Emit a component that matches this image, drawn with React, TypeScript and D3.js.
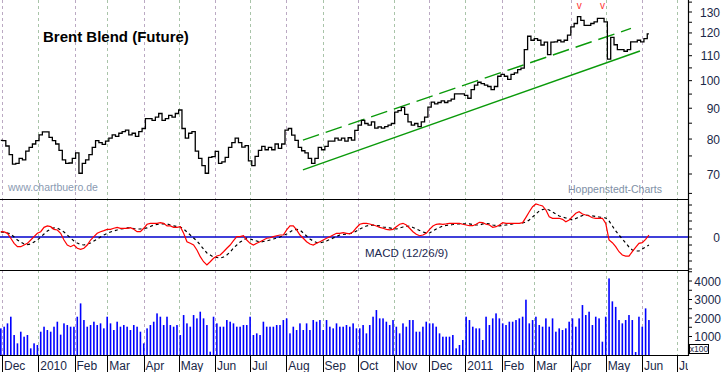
import * as d3 from 'd3';

// closes, sampled about every 2 trading days (Nov 30 2009 -> Jun 7 2011)
const closes = [
  79.6, 79.5, 77.9, 75.4, 72.7, 72.9, 74.3, 73.9, 76.4, 77.5,
  78.5, 79.5, 81.3, 82.2, 82.2, 80.5, 79.5, 78.5, 76.6, 73.9,
  72.9, 73.0, 74.3, 75.9, 70.2, 72.9, 73.9, 75.4, 77.5, 79.5,
  78.9, 78.4, 79.4, 80.3, 81.3, 80.8, 81.8, 82.3, 82.8, 81.3,
  81.8, 80.8, 82.3, 83.3, 86.5, 86.5, 85.9, 87.0, 88.2, 85.9,
  86.5, 87.6, 87.0, 88.2, 89.4, 83.3, 80.3, 81.8, 82.3, 76.4,
  74.3, 72.3, 70.2, 74.6, 74.8, 76.3, 72.9, 73.3, 74.6, 77.5,
  78.9, 80.3,
  78.9, 77.6, 78.0, 73.6, 72.3, 74.9, 76.6, 77.8, 76.8, 77.5,
  76.8, 78.5, 77.2, 78.5, 82.8, 83.3, 81.2, 79.6, 77.5, 76.5,
  75.9, 74.3, 72.9, 74.3, 77.5, 76.8, 77.8, 79.4, 79.4, 80.3,
  79.7, 80.3, 79.4, 80.4, 79.7, 82.7, 84.4, 85.9, 84.9, 84.4,
  85.4, 83.4, 83.8, 83.4, 83.9, 84.4, 84.9, 88.7, 89.2, 90.3,
  87.9, 85.4, 84.4, 84.9, 83.9, 85.4, 87.0, 90.4, 92.1, 91.5,
  92.0, 92.6, 92.0, 92.6, 93.2, 95.1, 95.1, 95.1, 94.5, 93.5,
  96.6, 98.3,
  99.4, 98.9, 98.3, 97.8, 96.6, 97.8, 101.7, 102.4, 101.7, 100.5,
  102.4, 103.0, 104.3, 104.9, 112.6, 118.5, 116.7, 117.4, 116.7, 114.6,
  115.9, 110.5, 115.9, 116.0, 116.7, 116.0, 116.7, 119.0, 122.8, 124.4,
  127.7, 125.9, 123.5, 123.5, 124.4, 125.2, 126.9, 126.9, 125.2, 108.6,
  118.0, 114.7, 112.6, 112.6, 111.9, 112.6, 116.0, 116.0, 116.7, 116.0,
  117.4, 119.6
];

const macd = [
  0.66, 0.63, 0.46, -0.16, -0.79, -1.21, -1.21, -1.0, -0.79, -0.38,
  0.04, 0.46, 0.66, 1.21, 1.38, 1.29, 0.96, 0.88, 0.46, -0.38,
  -1.0, -1.21, -1.0, -1.41, -1.54, -1.41, -1.0, -0.38, 0.04, 0.46,
  0.66, 0.79, 0.96, 0.96, 1.09, 1.21, 1.09, 1.09, 1.09, 1.16,
  0.96, 0.66, 0.66, 1.09, 1.59, 1.71, 1.71, 1.71, 1.79, 1.71,
  1.38, 1.38, 1.21, 1.21, 1.29, 0.46, -0.59, -0.79, -1.0, -1.63,
  -2.46, -3.09, -3.5, -3.09, -2.66, -2.38, -2.25, -1.84, -1.41, -1.0,
  -0.46, 0.04,
  0.04, 0.16, -0.38, -0.79, -1.0, -0.79, -0.59, -0.38, -0.16, -0.09,
  0.04, 0.16, 0.25, 0.25, 0.88, 1.38, 1.38, 0.88, 0.25, -0.16,
  -0.59, -0.88, -1.0, -0.79, -0.59, -0.38, -0.16, 0.04, 0.25, 0.46,
  0.46, 0.54, 0.46, 0.38, 0.66, 1.16, 1.59, 1.71, 1.71, 1.63,
  1.5, 1.38, 1.21, 1.09, 0.96, 0.88, 0.96, 1.29, 1.59, 1.71,
  1.5, 1.09, 0.66, 0.34, 0.16, 0.25, 0.46, 0.96, 1.38, 1.59,
  1.63, 1.59, 1.63, 1.71, 1.71, 1.71, 1.71, 1.59, 1.5, 1.41,
  1.41, 1.59,
  1.84, 1.79, 1.59, 1.5, 1.21, 1.29, 1.5, 1.79, 1.71, 1.71,
  1.71, 1.71, 1.71, 1.79, 2.46, 3.16, 3.79, 4.13, 4.0, 3.88,
  3.38, 2.54, 2.34, 2.34, 2.34, 2.21, 1.91, 2.13, 2.54, 2.96,
  3.16, 2.88, 2.75, 2.63, 2.41, 2.34, 2.34, 2.34, 1.71, -0.38,
  -0.71, -1.21, -1.84, -2.25, -2.38, -2.38, -1.84, -1.29, -0.79, -0.71,
  -0.29, 0.25
];

const signal = [
  0.63, 0.56, 0.5, 0.38, 0, -0.38, -0.63, -0.88, -0.94, -0.88,
  -0.63, -0.38, 0, 0.38, 0.75, 1.0, 1.13, 1.13, 0.88, 0.63,
  0.25, -0.13, -0.5, -0.75, -0.94, -1.0, -0.88, -0.75, -0.5, -0.25,
  0, 0.25, 0.44, 0.63, 0.75, 0.88, 1.0, 1.06, 1.13, 1.13,
  1.06, 1.0, 1.0, 1.06, 1.13, 1.31, 1.5, 1.56, 1.63, 1.63,
  1.63, 1.5, 1.38, 1.31, 1.25, 1.0, 0.63, 0.25, -0.13, -0.5,
  -1.0, -1.5, -2.0, -2.25, -2.5, -2.56, -2.63, -2.5, -2.25, -1.88,
  -1.38, -1.0,
  -0.63, -0.38, -0.13, -0.25, -0.38, -0.5, -0.63, -0.56, -0.5, -0.38,
  -0.25, -0.13, 0, 0.19, 0.38, 0.63, 0.88, 0.94, 0.88, 0.5,
  0.13, -0.25, -0.5, -0.69, -0.75, -0.63, -0.5, -0.31, -0.13, 0.06,
  0.25, 0.31, 0.38, 0.44, 0.5, 0.75, 1.0, 1.19, 1.38, 1.44,
  1.5, 1.44, 1.38, 1.25, 1.19, 1.13, 1.06, 1.0, 1.13, 1.25,
  1.31, 1.38, 1.19, 1.0, 0.81, 0.63, 0.5, 0.5, 0.75, 1.0,
  1.19, 1.38, 1.44, 1.5, 1.56, 1.63, 1.63, 1.63, 1.63, 1.63,
  1.56, 1.5,
  1.5, 1.63, 1.69, 1.63, 1.5, 1.44, 1.38, 1.44, 1.5, 1.56,
  1.63, 1.69, 1.69, 1.75, 1.88, 2.13, 2.5, 2.88, 3.25, 3.44,
  3.5, 3.38, 3.13, 2.88, 2.63, 2.5, 2.38, 2.25, 2.13, 2.31,
  2.5, 2.69, 2.75, 2.69, 2.63, 2.56, 2.5, 2.44, 2.38, 2.0,
  1.38, 0.75, 0.25, -0.25, -0.75, -1.25, -1.63, -1.75, -1.75, -1.5,
  -1.25, -1.0
];

// volume in units of 100 contracts
const volumes = [
  1440, 1530, 1710, 2070, 1080, 630, 1260, 990, 1080, 360,
  630, 540, 1260, 1530, 1350, 1260, 1530, 1800, 1100, 1710,
  1620, 1530, 1530, 2070, 2790, 1890, 1530, 1620, 1800, 1620,
  1710, 1440, 2070, 1710, 1350, 1800, 1530, 1620, 1530, 1350,
  1620, 1530, 1260, 630, 1440, 1620, 1800, 2250, 2070, 1620,
  2070, 1620, 1530, 1620, 1080, 2160, 1710, 1530, 2160, 1980,
  2340, 1980, 1620, 180, 2070, 1710, 1530, 1530, 1890, 1800,
  1710, 1530,
  1530, 1620, 1620, 2070, 1080, 1170, 1080, 1800, 1530, 1530,
  1530, 1620, 1620, 1890, 1980, 1170, 1530, 1350, 1710, 1350,
  1710, 1350, 1890, 1800, 1890, 1350, 1890, 1530, 1440, 1710,
  1530, 1530, 1620, 1530, 1710, 1440, 1440, 1620, 1170, 1620,
  2070, 2430, 1980, 1980, 1800, 1620, 1890, 1530, 1170, 1710,
  1530, 1890, 1890, 1260, 1260, 1530, 1800, 1710, 1710, 1530,
  1170, 990, 990, 990, 1080, 360, 540, 810, 2070, 1890,
  1530, 1440,
  1440, 810, 2070, 1620, 1980, 2250, 1980, 1710, 1620, 1800,
  1800, 1890, 1980, 2070, 2990, 1710, 1890, 2070, 1620, 1530,
  1980, 1530, 1980, 1260, 1440, 1350, 1440, 1800, 1980, 1530,
  1980, 2700, 2160, 2340, 1620, 2070, 1980, 720, 2070, 4140,
  2900, 2600, 1890, 1710, 1890, 2160, 1890, 160, 2070, 1530,
  2520, 1890
];

const monthLabels = ['Dec', '2010', 'Feb', 'Mar', 'Apr', 'May', 'Jun', 'Jul', 'Aug', 'Sep',
  'Oct', 'Nov', 'Dec', '2011', 'Feb', 'Mar', 'Apr', 'May', 'Jun', 'Jul'];
const priceLabels = [70, 80, 90, 100, 110, 120, 130];
const volumeLabels = [1000, 2000, 3000, 4000];

// trend channel: [sample index, price]
const lowerTrend = [[90.9, 71.1], [192.3, 112.0]];
const upperTrend = [[90.9, 79.7], [189.6, 122.1]];
const peakIdx = [174, 181];

const font = '"Liberation Sans", Arial, sans-serif';
const axisX = 688;

export default function App() {
  const xTime = d3.scaleTime()
    .domain([new Date(2009, 11, 1), new Date(2011, 6, 1)])
    .range([2, 677]);
  const xIdx = d3.scaleLinear()
    .domain([0, closes.length - 1])
    .range([xTime(new Date(2009, 10, 30)), xTime(new Date(2011, 5, 7))]);
  const yPrice = d3.scaleLog().domain([130, 70]).range([12, 174]);
  const yMacd = d3.scaleLinear().domain([0, 1]).range([237, 229]);
  const yVol = d3.scaleLinear().domain([0, 4000]).range([355, 281]);

  const months = d3.timeMonth.range(new Date(2009, 11, 1), new Date(2011, 6, 2));

  const priceLine = d3.line<number>()
    .x((_, i) => xIdx(i))
    .y(d => yPrice(d))
    .curve(d3.curveStep);
  const macdLine = d3.line<number>()
    .x((_, i) => xIdx(i))
    .y(d => yMacd(d));
  const trend = d3.line<number[]>()
    .x(d => xIdx(d[0]))
    .y(d => yPrice(d[1]));

  return (
    <svg width={723} height={372} style={{ position: 'absolute', left: 0, top: 0, background: '#fff' }}
      fontFamily={font}>
      <defs>
        <clipPath id="plot"><rect x={0} y={0} width={axisX} height={372} /></clipPath>
      </defs>

      {/* month grid */}
      {months.map((m, i) => (
        <line key={'g' + i} x1={Math.round(xTime(m)) + 0.5} x2={Math.round(xTime(m)) + 0.5} y1={0} y2={355}
          stroke={i % 2 ? '#a9c4a9' : '#bba9c3'} strokeDasharray="3,3" />
      ))}

      {/* panel borders */}
      <line x1={0} x2={axisX} y1={199.5} y2={199.5} stroke="#000" strokeWidth={1.2} />
      <line x1={0} x2={axisX} y1={270.5} y2={270.5} stroke="#000" strokeWidth={1.2} />
      <line x1={0} x2={axisX} y1={355.5} y2={355.5} stroke="#000" strokeWidth={1.2} />
      <line x1={axisX + 0.5} x2={axisX + 0.5} y1={0} y2={356} stroke="#000" strokeWidth={1.2} />

      {/* price */}
      <text x={43} y={41.5} fontSize={15} fontWeight="bold" fill="#000">Brent Blend (Future)</text>
      <text x={8} y={190.5} fontSize={10.5} fill="#8a9ab2">www.chartbuero.de</text>
      <text x={568} y={192.5} fontSize={10.5} fill="#8090a6">Hoppenstedt-Charts</text>
      <path d={trend(lowerTrend) || ''} fill="none" stroke="#0a9a0a" strokeWidth={1.4} />
      <path d={trend(upperTrend) || ''} fill="none" stroke="#0a9a0a" strokeWidth={1.4} strokeDasharray="17,7" />
      <path d={priceLine(closes) || ''} fill="none" stroke="#000" strokeWidth={1.3} />
      {peakIdx.map(i => (
        <text key={'v' + i} x={xIdx(i)} y={9} fontSize={10} fill="#ff3030" textAnchor="middle">v</text>
      ))}
      {d3.range(65, 140, 5).map(v => (
        <line key={'pt' + v} x1={axisX} x2={axisX + 4} y1={yPrice(v)} y2={yPrice(v)} stroke="#000" />
      ))}
      {priceLabels.map(v => (
        <text key={'pl' + v} x={720} y={yPrice(v) + 4.5} fontSize={12} textAnchor="end" fill="#1a2848">{v}</text>
      ))}

      {/* macd */}
      <line x1={0} x2={axisX} y1={yMacd(0)} y2={yMacd(0)} stroke="#0000cc" strokeWidth={1.4} />
      <path d={macdLine(signal) || ''} fill="none" stroke="#000" strokeWidth={1.2} strokeDasharray="3,3" />
      <path d={macdLine(macd) || ''} fill="none" stroke="#ff0000" strokeWidth={1.2} />
      <text x={365} y={256.5} fontSize={11.5} fill="#1a2850">MACD (12/26/9)</text>
      {d3.range(-4, 5).map(v => (
        <line key={'mt' + v} x1={axisX} x2={axisX + 4} y1={yMacd(v)} y2={yMacd(v)} stroke="#000" />
      ))}
      <text x={720} y={yMacd(0) + 4.5} fontSize={12} textAnchor="end" fill="#1a2848">0</text>

      {/* volume */}
      {volumes.map((v, i) => (
        <rect key={'b' + i} x={xIdx(i) - 0.8} y={yVol(v)} width={1.6} height={yVol(0) - yVol(v)} fill="#0000ff" />
      ))}
      {d3.range(500, 4600, 500).map(v => (
        <line key={'vt' + v} x1={axisX} x2={axisX + 4} y1={yVol(v)} y2={yVol(v)} stroke="#000" />
      ))}
      {volumeLabels.map(v => (
        <text key={'vl' + v} x={721} y={yVol(v) + 4.5} fontSize={12} textAnchor="end" fill="#1a2848">{v}</text>
      ))}
      <rect x={689.5} y={344.5} width={19} height={9} fill="#fff" stroke="#000" />
      <text x={699} y={352} fontSize={8.5} textAnchor="middle" fill="#1a2848">x100</text>

      {/* x axis */}
      <g clipPath="url(#plot)">
        {months.map((m, i) => (
          <g key={'m' + i}>
            <line x1={Math.round(xTime(m)) + 0.5} x2={Math.round(xTime(m)) + 0.5} y1={355} y2={372} stroke="#000" />
            <text x={xTime(m) + 2} y={370} fontSize={12} fill="#1a2848">{monthLabels[i]}</text>
          </g>
        ))}
      </g>
    </svg>
  );
}
